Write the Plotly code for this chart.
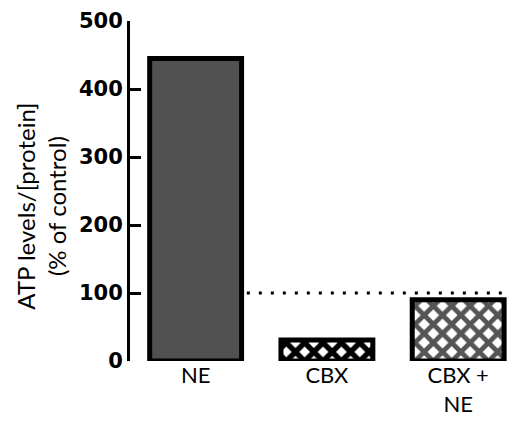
import plotly.graph_objects as go

categories = ["NE", "CBX", "CBX +<br>NE"]
atp_values = [445, 31, 90]
control_level = 100
y_ticks = [0, 100, 200, 300, 400, 500]

fill_colors = ["#515151", "white", "white"]
pattern_shapes = ["", "x", "x"]
pattern_fg = ["#515151", "black", "#555555"]
pattern_solidity = [0.3, 0.66, 0.6]

fig = go.Figure()
for cat, val, fc, shp, fg, sol in zip(categories, atp_values, fill_colors,
                                      pattern_shapes, pattern_fg, pattern_solidity):
    pattern = dict(shape=shp)
    if shp:
        pattern.update(fgcolor=fg, bgcolor="white", size=13, solidity=sol,
                       fillmode="replace")
    fig.add_trace(go.Bar(
        x=[cat],
        y=[val],
        width=0.7,
        marker=dict(
            color=fc,
            line=dict(color="black", width=5),
            pattern=pattern,
        ),
        showlegend=False,
    ))

fig.add_shape(
    type="line", xref="x", yref="y",
    x0=0.39, x1=2.41, y0=control_level, y1=control_level,
    line=dict(color="black", width=3, dash="3px,9px"),
    layer="above",
)

fig.add_annotation(
    text="ATP levels/[protein]<br>(% of control)",
    xref="paper", yref="paper", x=-0.232, y=0.455,
    xanchor="center", yanchor="middle", textangle=-90,
    showarrow=False,
    font=dict(family="Lato", size=24, color="black"),
)

fig.update_layout(
    width=507, height=413,
    margin=dict(l=122, r=3, t=13, b=60),
    paper_bgcolor="white", plot_bgcolor="white",
    barmode="overlay",
    xaxis=dict(
        type="category",
        categoryorder="array", categoryarray=categories,
        range=[-0.5, 2.41],
        automargin=False,
        showline=False, showgrid=False, zeroline=False,
        ticks="",
        ticklabelstandoff=-1,
        tickfont=dict(family="Lato", size=22, color="black"),
    ),
    yaxis=dict(
        range=[0, 500],
        tickvals=y_ticks,
        automargin=False,
        showline=True, linecolor="black", linewidth=3,
        ticks="inside", ticklen=11, tickwidth=3, tickcolor="black",
        showgrid=False, zeroline=False,
        tickfont=dict(family="DejaVu Sans", size=21, color="black", weight="bold"),
    ),
)

fig.write_html("out.html")
